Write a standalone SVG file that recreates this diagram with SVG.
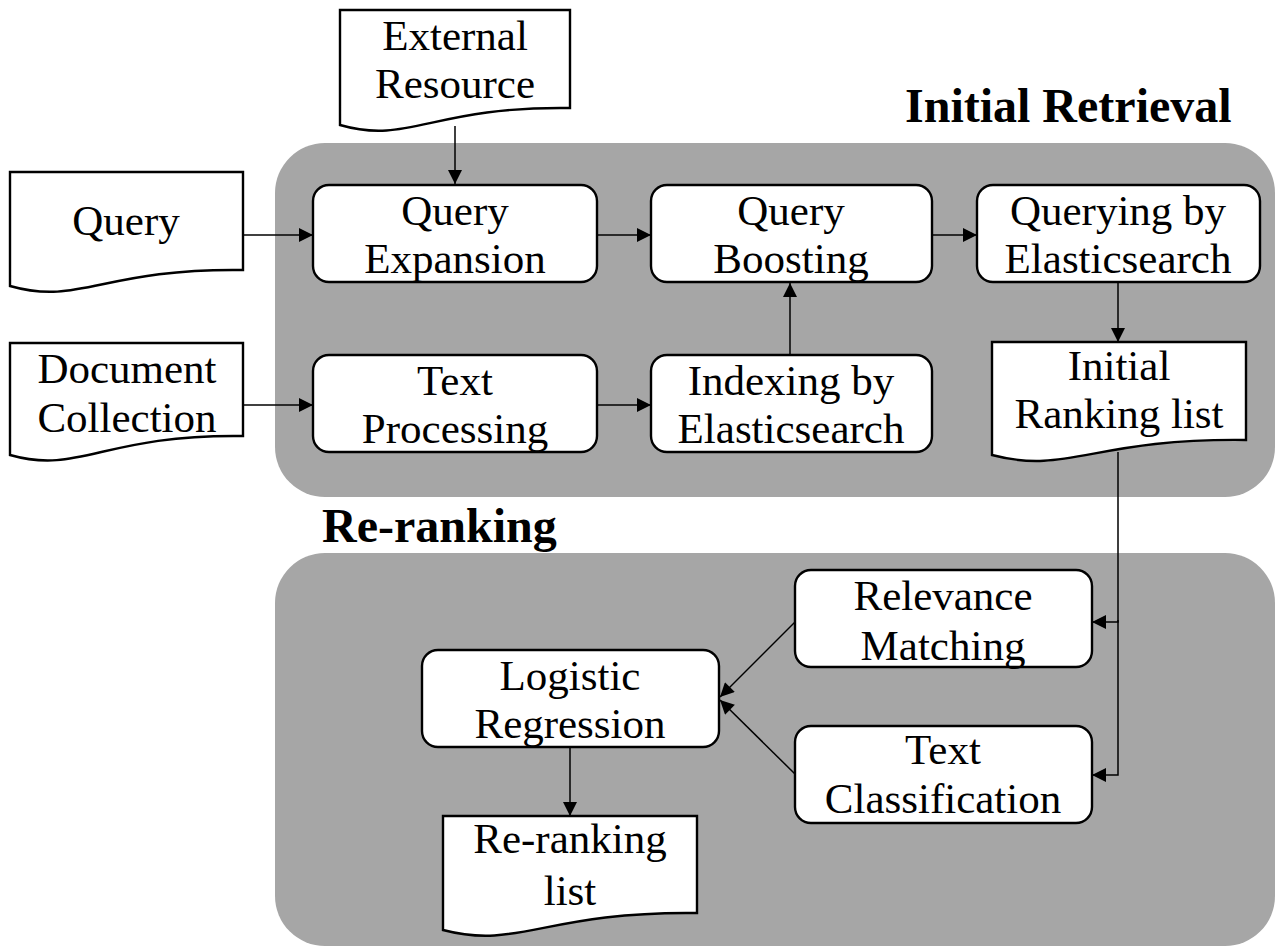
<svg xmlns="http://www.w3.org/2000/svg" width="1276" height="949" viewBox="0 0 1276 949">
<style>
.panel{fill:#a6a6a6;stroke:none}
.box{fill:#fff;stroke:#000;stroke-width:2.4}
.t{font-family:"Liberation Serif","Times New Roman",serif;font-size:43px;text-anchor:middle;fill:#000}
.title{font-family:"Liberation Serif","Times New Roman",serif;font-size:48px;font-weight:bold;fill:#000}
.c{fill:none;stroke:#000;stroke-width:1.5}
</style>
<defs>
<marker id="ah" viewBox="0 0 10 10" refX="10" refY="5" markerWidth="15" markerHeight="14" markerUnits="userSpaceOnUse" orient="auto">
<path d="M0,0 L10,5 L0,10 z" fill="#000"/>
</marker>
</defs>
<g id="panels">
<rect class="panel" x="275" y="143" width="1000" height="354" rx="50" ry="50"/>
<rect class="panel" x="275" y="553" width="1000" height="393" rx="50" ry="50"/>
</g>
<text class="title" x="905" y="122">Initial Retrieval</text>
<text class="title" x="322" y="542">Re-ranking</text>
<g id="connectors">
<line class="c" x1="455" y1="126" x2="455" y2="184" marker-end="url(#ah)"/>
<line class="c" x1="243" y1="235" x2="313" y2="235" marker-end="url(#ah)"/>
<line class="c" x1="597" y1="235" x2="651" y2="235" marker-end="url(#ah)"/>
<line class="c" x1="932" y1="235" x2="977" y2="235" marker-end="url(#ah)"/>
<line class="c" x1="1118" y1="282" x2="1118" y2="342" marker-end="url(#ah)"/>
<line class="c" x1="243" y1="405" x2="313" y2="405" marker-end="url(#ah)"/>
<line class="c" x1="597" y1="405" x2="651" y2="405" marker-end="url(#ah)"/>
<line class="c" x1="790" y1="355" x2="790" y2="283" marker-end="url(#ah)"/>
<polyline class="c" points="1118,452 1118,622 1092,622" marker-end="url(#ah)"/>
<polyline class="c" points="1118,620 1118,775 1092,775" marker-end="url(#ah)"/>
<line class="c" x1="795" y1="622" x2="720" y2="697" marker-end="url(#ah)"/>
<line class="c" x1="795" y1="774" x2="720" y2="700" marker-end="url(#ah)"/>
<line class="c" x1="570" y1="747" x2="570" y2="816" marker-end="url(#ah)"/>
</g>
<g id="external-resource">
<path class="box" d="M340,10 H570 V108 C432,106 409,145 340,125 Z"/>
<text class="t" x="455" y="50">External</text>
<text class="t" x="455" y="98">Resource</text>
</g>
<g id="query">
<path class="box" d="M10,172 H243 V270 C103,268 80,306 10,286 Z"/>
<text class="t" x="126" y="235">Query</text>
</g>
<g id="document-collection">
<path class="box" d="M10,343 H243 V436 C103,434 80,475 10,455 Z"/>
<text class="t" x="127" y="383">Document</text>
<text class="t" x="127" y="432">Collection</text>
</g>
<g id="query-expansion">
<rect class="box" x="313" y="185" width="284" height="97" rx="16"/>
<text class="t" x="455" y="225">Query</text>
<text class="t" x="455" y="273">Expansion</text>
</g>
<g id="query-boosting">
<rect class="box" x="651" y="185" width="281" height="97" rx="16"/>
<text class="t" x="791" y="225">Query</text>
<text class="t" x="791" y="273">Boosting</text>
</g>
<g id="querying-es">
<rect class="box" x="977" y="185" width="283" height="97" rx="16"/>
<text class="t" x="1118" y="225">Querying by</text>
<text class="t" x="1118" y="273">Elasticsearch</text>
</g>
<g id="text-processing">
<rect class="box" x="313" y="355" width="284" height="97" rx="16"/>
<text class="t" x="455" y="395">Text</text>
<text class="t" x="455" y="443">Processing</text>
</g>
<g id="indexing-es">
<rect class="box" x="651" y="355" width="281" height="97" rx="16"/>
<text class="t" x="791" y="395">Indexing by</text>
<text class="t" x="791" y="443">Elasticsearch</text>
</g>
<g id="initial-ranking-list">
<path class="box" d="M992,342 H1246 V440 C1094,438 1068,475 992,455 Z"/>
<text class="t" x="1119" y="380">Initial</text>
<text class="t" x="1119" y="428">Ranking list</text>
</g>
<g id="relevance-matching">
<rect class="box" x="795" y="570" width="297" height="97" rx="16"/>
<text class="t" x="943" y="610">Relevance</text>
<text class="t" x="943" y="660">Matching</text>
</g>
<g id="text-classification">
<rect class="box" x="795" y="726" width="297" height="97" rx="16"/>
<text class="t" x="943" y="764">Text</text>
<text class="t" x="943" y="813">Classification</text>
</g>
<g id="logistic-regression">
<rect class="box" x="422" y="650" width="297" height="97" rx="16"/>
<text class="t" x="570" y="690">Logistic</text>
<text class="t" x="570" y="738">Regression</text>
</g>
<g id="re-ranking-list">
<path class="box" d="M443,816 H697 V913 C545,911 519,950 443,930 Z"/>
<text class="t" x="570" y="853">Re-ranking</text>
<text class="t" x="570" y="905">list</text>
</g>
</svg>
